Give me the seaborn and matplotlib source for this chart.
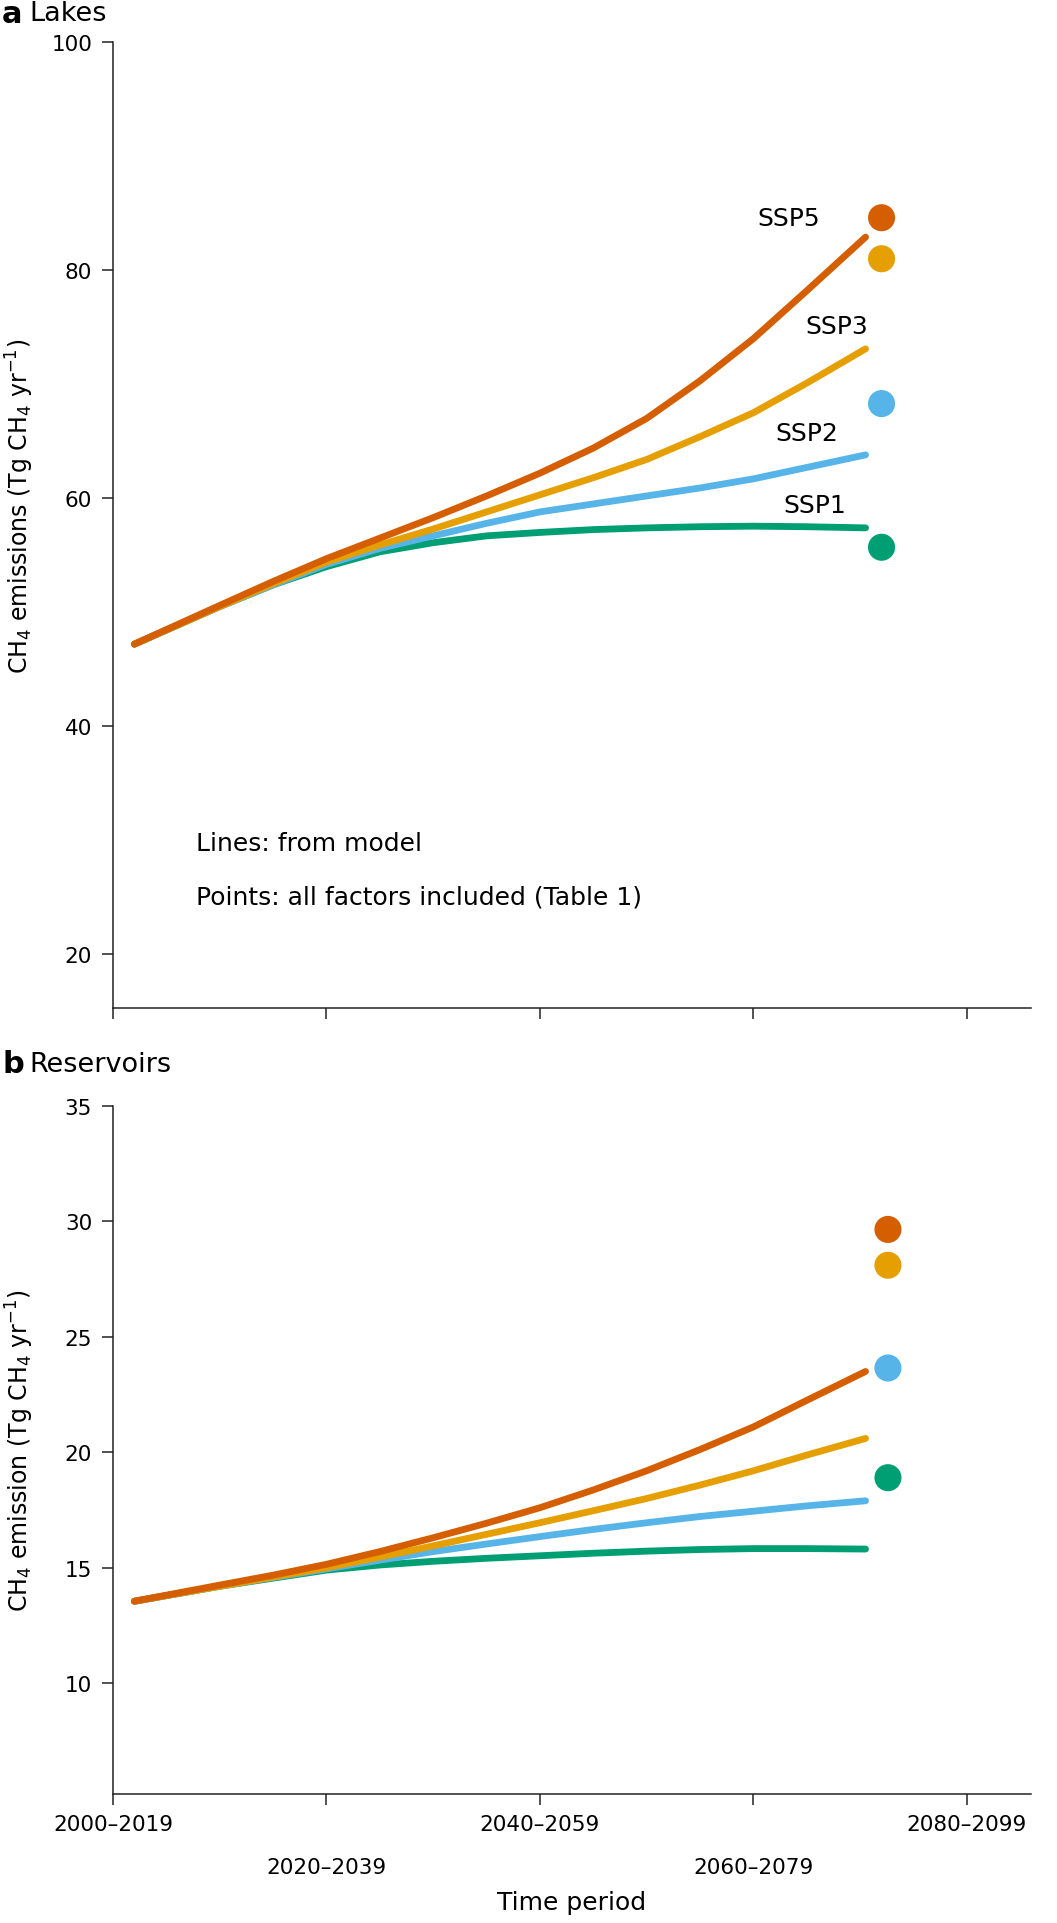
"""
CH4 emissions from lakes and reservoirs under SSP scenarios.
"""

import matplotlib
matplotlib.use('Agg')
import matplotlib.pyplot as plt
import pandas as pd
import seaborn as sns

# --- data ---
periods = ['2000–2019', '2020–2039', '2040–2059', '2060–2079', '2080–2099']
period_pos = [2010, 2030, 2050, 2070, 2090]
scenarios = ['SSP1', 'SSP2', 'SSP3', 'SSP5']
colors = ['#009E73', '#56B4E9', '#E69F00', '#D55E00']

years = [2012, 2020, 2025, 2030, 2035, 2040, 2045, 2050, 2055, 2060, 2065,
         2070, 2075, 2080.5]

lakes_ssp1 = [47.2, 50.5, 52.4, 54.0, 55.3, 56.1, 56.7, 57.0, 57.25, 57.4,
              57.5, 57.55, 57.5, 57.4]
lakes_ssp2 = [47.2, 50.5, 52.4, 54.2, 55.6, 56.7, 57.8, 58.8, 59.5, 60.2,
              60.9, 61.7, 62.7, 63.8]
lakes_ssp3 = [47.2, 50.5, 52.5, 54.4, 55.9, 57.3, 58.8, 60.3, 61.8, 63.4,
              65.4, 67.5, 70.1, 73.1]
lakes_ssp5 = [47.2, 50.6, 52.7, 54.7, 56.5, 58.3, 60.2, 62.2, 64.4, 67.0,
              70.3, 74.0, 78.2, 82.9]
lakes_points = [55.7, 68.3, 81.0, 84.6]
lakes_point_year = 2082

res_ssp1 = [13.55, 14.2, 14.55, 14.9, 15.12, 15.28, 15.41, 15.52, 15.63,
            15.72, 15.79, 15.83, 15.83, 15.81]
res_ssp2 = [13.55, 14.2, 14.58, 14.95, 15.33, 15.7, 16.03, 16.35, 16.66,
            16.95, 17.22, 17.45, 17.68, 17.9]
res_ssp3 = [13.55, 14.2, 14.6, 15.0, 15.46, 15.95, 16.45, 16.95, 17.47,
            18.0, 18.58, 19.2, 19.88, 20.6]
res_ssp5 = [13.55, 14.25, 14.68, 15.15, 15.7, 16.3, 16.93, 17.6, 18.37,
            19.2, 20.12, 21.1, 22.25, 23.5]
res_points = [18.9, 23.65, 28.1, 29.65]
res_point_year = 2082.6

# label positions of SSP names in panel a
ssp_label_x = [2075.7, 2075.0, 2077.8, 2073.3]
ssp_label_y = [59.4, 65.7, 75.1, 84.6]


def long_frame(series):
    rows = []
    for name, vals in zip(scenarios, series):
        for yr, v in zip(years, vals):
            rows.append({'year': yr, 'value': v, 'scenario': name})
    return pd.DataFrame(rows)


def draw_panel(ax, series, points, point_year):
    palette = dict(zip(scenarios, colors))
    sns.lineplot(data=long_frame(series), x='year', y='value', hue='scenario',
                 hue_order=scenarios, palette=palette, ax=ax, lw=4.9,
                 solid_capstyle='round', solid_joinstyle='round',
                 legend=False, zorder=2)
    pts = pd.DataFrame({'year': [point_year] * len(points), 'value': points,
                        'scenario': scenarios})
    sns.scatterplot(data=pts, x='year', y='value', hue='scenario',
                    hue_order=scenarios, palette=palette, ax=ax, s=380,
                    linewidth=0, legend=False, zorder=3)
    sns.despine(ax=ax)
    ax.set_xlim(2010, 2096)
    ax.set_xticks(period_pos)
    ax.tick_params(bottom=True, left=True, direction='out', length=8,
                   width=1.1, colors='#222222', labelsize=15.5,
                   labelcolor='black')
    ax.tick_params(axis='y', pad=7)
    for s in ['left', 'bottom']:
        ax.spines[s].set_linewidth(1.1)
        ax.spines[s].set_color('#222222')


sns.set_theme(style='white')
plt.rcParams['font.family'] = ['DejaVu Sans']
plt.rcParams['mathtext.default'] = 'regular'
plt.rcParams['text.color'] = 'black'
plt.rcParams['axes.labelcolor'] = 'black'

fig = plt.figure(figsize=(10.57, 19.24), dpi=100)
ax_a = fig.add_axes([0.1069, 0.4756, 0.8685, 0.502])
ax_b = fig.add_axes([0.1069, 0.0670, 0.8685, 0.3577])

# Panel a: lakes
draw_panel(ax_a, [lakes_ssp1, lakes_ssp2, lakes_ssp3, lakes_ssp5],
           lakes_points, lakes_point_year)
ax_a.set_ylim(15.3, 100)
ax_a.set_yticks([20, 40, 60, 80, 100])
ax_a.set_xticklabels([])
ax_a.set_xlabel('')
ax_a.set_ylabel('CH$_4$ emissions (Tg CH$_4$ yr$^{-1}$)', fontsize=17)
ax_a.yaxis.set_label_coords(-0.084, 0.52)
for name, x, y in zip(scenarios, ssp_label_x, ssp_label_y):
    ax_a.text(x, y, name, fontsize=18, ha='center', va='center')
ax_a.text(2017.8, 29.8, 'Lines: from model', fontsize=18, va='center')
ax_a.text(2017.8, 25.1, 'Points: all factors included (Table 1)',
          fontsize=18, va='center')

# Panel b: reservoirs
draw_panel(ax_b, [res_ssp1, res_ssp2, res_ssp3, res_ssp5],
           res_points, res_point_year)
ax_b.set_ylim(5.2, 35)
ax_b.set_yticks([10, 15, 20, 25, 30, 35])
ax_b.set_xticklabels(periods)
ax_b.set_ylabel('CH$_4$ emission (Tg CH$_4$ yr$^{-1}$)', fontsize=17)
ax_b.yaxis.set_label_coords(-0.084, 0.5)
ax_b.set_xlabel('Time period', fontsize=18, labelpad=10)
for i, tick in enumerate(ax_b.xaxis.get_major_ticks()):
    tick.set_pad(6 if i % 2 == 0 else 37)

# panel letters
fig.text(0.002, 0.9927, 'a', fontsize=22, fontweight='bold', va='center')
fig.text(0.028, 0.9927, 'Lakes', fontsize=19.5, va='center')
fig.text(0.002, 0.4465, 'b', fontsize=22, fontweight='bold', va='center')
fig.text(0.028, 0.4465, 'Reservoirs', fontsize=19.5, va='center')

plt.savefig('out.png', dpi=100)
plt.close()
